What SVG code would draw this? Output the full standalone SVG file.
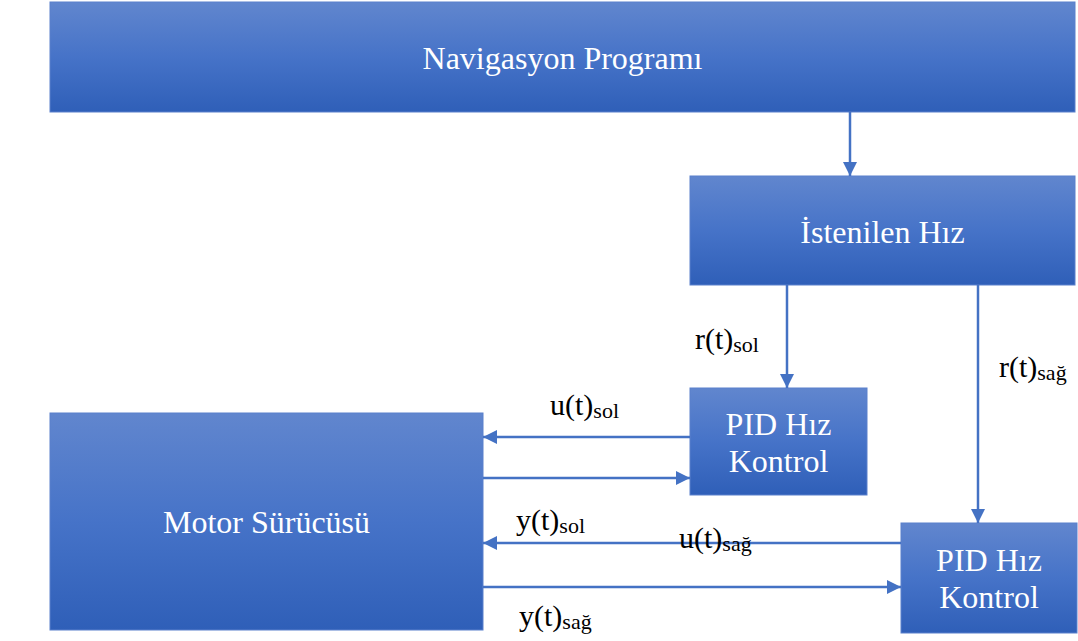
<svg xmlns="http://www.w3.org/2000/svg" width="1078" height="641" viewBox="0 0 1078 641">
<defs>
<linearGradient id="bg" x1="0" y1="0" x2="0" y2="1">
<stop offset="0" stop-color="#6186CE"/>
<stop offset="0.5" stop-color="#4673C8"/>
<stop offset="1" stop-color="#2F5FB8"/>
</linearGradient>
<marker id="ah" markerUnits="userSpaceOnUse" markerWidth="15" markerHeight="15" refX="14" refY="7" orient="auto">
<path d="M0,0 L14,7 L0,14 z" fill="#4472C4"/>
</marker>
<style>
.box{fill:url(#bg);stroke:#5A80CC;stroke-width:1}
.t{font-size:32px;fill:#ffffff;text-anchor:middle}
.c{stroke:#4472C4;stroke-width:2.5;fill:none;marker-end:url(#ah)}
.l{font-size:30px;fill:#000000}
.s{font-size:22px}
</style>
</defs>
<rect width="1078" height="641" fill="#ffffff"/>
<g id="nav">
<rect class="box" x="50" y="2" width="1025" height="110"/>
<text class="t" font-family="Liberation Serif, serif" x="562.5" y="69">Navigasyon Programı</text>
</g>
<g id="istenilen">
<rect class="box" x="690" y="176" width="385" height="109"/>
<text class="t" font-family="Liberation Serif, serif" x="882.5" y="243">İstenilen Hız</text>
</g>
<g id="pid-sol">
<rect class="box" x="690" y="388" width="177" height="107"/>
<text class="t" font-family="Liberation Serif, serif" x="778.5" y="435">PID Hız</text>
<text class="t" font-family="Liberation Serif, serif" x="778.5" y="472">Kontrol</text>
</g>
<g id="pid-sag">
<rect class="box" x="901" y="523" width="176" height="110"/>
<text class="t" font-family="Liberation Serif, serif" x="989" y="571">PID Hız</text>
<text class="t" font-family="Liberation Serif, serif" x="989" y="608">Kontrol</text>
</g>
<g id="motor">
<rect class="box" x="50" y="413" width="433" height="217"/>
<text class="t" font-family="Liberation Serif, serif" x="266.5" y="533">Motor Sürücüsü</text>
</g>
<g id="connectors">
<line class="c" x1="850" y1="112" x2="850" y2="176"/>
<line class="c" x1="787" y1="285" x2="787" y2="388"/>
<line class="c" x1="978" y1="285" x2="978" y2="523"/>
<line class="c" x1="690" y1="437" x2="483" y2="437"/>
<line class="c" x1="483" y1="478" x2="690" y2="478"/>
<line class="c" x1="901" y1="543" x2="483" y2="543"/>
<line class="c" x1="483" y1="587" x2="901" y2="587"/>
</g>
<g id="labels" font-family="Liberation Serif, serif">
<text class="l" x="695" y="349">r(t)<tspan class="s" dy="3">sol</tspan></text>
<text class="l" x="999" y="377">r(t)<tspan class="s" dy="3">sağ</tspan></text>
<text class="l" x="550" y="415">u(t)<tspan class="s" dy="3">sol</tspan></text>
<text class="l" x="516" y="530">y(t)<tspan class="s" dy="3">sol</tspan></text>
<text class="l" x="679" y="548">u(t)<tspan class="s" dy="3">sağ</tspan></text>
<text class="l" x="519" y="626">y(t)<tspan class="s" dy="3">sağ</tspan></text>
</g>
</svg>
